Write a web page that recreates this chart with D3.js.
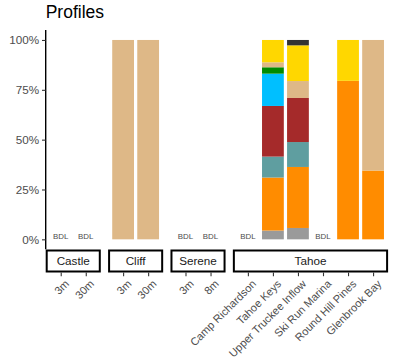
<!DOCTYPE html>
<html>
<head>
<meta charset="utf-8">
<script src="https://cdn.jsdelivr.net/npm/d3@7"></script>
<style>
  html, body { margin: 0; padding: 0; background: #fff; }
  svg { display: block; font-family: "Liberation Sans", Arial, sans-serif; }
</style>
</head>
<body>
<svg id="chart" width="393" height="360"></svg>
<script>
// Facet panels and the sites inside each one
const facets = ["Castle", "Cliff", "Serene", "Tahoe"];
const facetOf = ["Castle", "Castle", "Cliff", "Cliff", "Serene", "Serene",
                 "Tahoe", "Tahoe", "Tahoe", "Tahoe", "Tahoe", "Tahoe"];
const sites = ["3m", "30m", "3m", "30m", "3m", "8m",
               "Camp Richardson", "Tahoe Keys", "Upper Truckee Inflow",
               "Ski Run Marina", "Round Hill Pines", "Glenbrook Bay"];
// Samples below detection limit
const belowDetection = [true, true, false, false, true, true,
                        true, false, false, true, false, false];

// Share of each component (percent), stacked bottom to top
const seriesNames = ["s1", "s2", "s3", "s4", "s5", "s6", "s7", "s8", "s9"];
const s1 = [0, 0, 0, 0, 0, 0, 0, 4.4, 5.7, 0, 0, 0];
const s2 = [0, 0, 0, 0, 0, 0, 0, 26.6, 30.6, 0, 79.5, 34.5];
const s3 = [0, 0, 0, 0, 0, 0, 0, 10.5, 12.5, 0, 0, 0];
const s4 = [0, 0, 0, 0, 0, 0, 0, 25.4, 22.1, 0, 0, 0];
const s5 = [0, 0, 0, 0, 0, 0, 0, 16.2, 0, 0, 0, 0];
const s6 = [0, 0, 0, 0, 0, 0, 0, 3.2, 0, 0, 0, 0];
const s7 = [0, 0, 100, 100, 0, 0, 0, 2.5, 8.5, 0, 0, 65.5];
const s8 = [0, 0, 0, 0, 0, 0, 0, 11.2, 17.9, 0, 20.5, 0];
const s9 = [0, 0, 0, 0, 0, 0, 0, 0, 2.7, 0, 0, 0];
const seriesValues = [s1, s2, s3, s4, s5, s6, s7, s8, s9];
const seriesColors = ["#9a9a9a", "#ff8c00", "#5f9ea0", "#a52a2a", "#00bfff",
                      "#008b00", "#deb887", "#ffd700", "#333333"];

const yTicks = [0, 0.25, 0.5, 0.75, 1];

// Build rows: one per sample, with each component as a fraction
const rows = sites.map((site, i) => {
  const r = { key: facetOf[i] + "|" + site, facet: facetOf[i], site, bdl: belowDetection[i] };
  seriesNames.forEach((n, j) => { r[n] = seriesValues[j][i] / 100; });
  return r;
});

const svg = d3.select("#chart");

// Layout
const plotLeft = 45.7, plotRight = 388.1;
const panelTop = 30, panelBottom = 249.3;
const panelGap = 7.3;
const expandUnits = 0.6;
const counts = facets.map(f => rows.filter(r => r.facet === f).length);
const totalUnits = d3.sum(counts, c => c - 1 + 2 * expandUnits);
const unit = (plotRight - plotLeft - panelGap * (facets.length - 1)) / totalUnits;
const barFrac = 0.87;

const y = d3.scaleLinear().domain([-0.05, 1.05]).range([panelBottom, panelTop]);

// Title
svg.append("text")
  .attr("x", plotLeft).attr("y", 18.3)
  .attr("font-size", 17.5).attr("fill", "#000")
  .text("Profiles");

const stack = d3.stack().keys(seriesNames);

let x0 = plotLeft;
facets.forEach((f, fi) => {
  const data = rows.filter(r => r.facet === f);
  const w = (data.length - 1 + 2 * expandUnits) * unit;
  const x = d3.scalePoint().domain(data.map(d => d.key)).range([x0, x0 + w]).padding(expandUnits);
  const bw = barFrac * x.step();
  const g = svg.append("g");

  // Stacked bars
  const layers = stack(data);
  layers.forEach((layer, li) => {
    g.append("g").attr("fill", seriesColors[li])
      .selectAll("rect")
      .data(layer.filter(d => d[1] - d[0] > 0))
      .join("rect")
      .attr("x", d => x(d.data.key) - bw / 2)
      .attr("width", bw)
      .attr("y", d => y(d[1]))
      .attr("height", d => y(d[0]) - y(d[1]));
  });

  // Below-detection labels
  g.selectAll("text.bdl")
    .data(data.filter(d => d.bdl))
    .join("text")
    .attr("class", "bdl")
    .attr("x", d => x(d.key))
    .attr("y", y(0) - 0.8)
    .attr("text-anchor", "middle")
    .attr("font-size", 7.9)
    .attr("fill", "#4d4d4d")
    .text("BDL");

  // Strip
  const stripTop = 250, stripH = 22.5;
  g.append("rect")
    .attr("x", x0 + 1).attr("y", stripTop + 0.5)
    .attr("width", w - 2).attr("height", stripH - 1.5)
    .attr("fill", "#fff").attr("stroke", "#000").attr("stroke-width", 2);
  g.append("text")
    .attr("x", x0 + w / 2).attr("y", stripTop + stripH / 2 + 4)
    .attr("text-anchor", "middle").attr("font-size", 11.7).attr("fill", "#1a1a1a")
    .text(f);

  // Bottom axis below the strip
  const axisY = stripTop + stripH;
  const ax = g.append("g").attr("transform", `translate(0,${axisY})`)
    .call(d3.axisBottom(x).tickSize(3.7).tickSizeOuter(0).tickFormat(k => k.split("|")[1]));
  ax.select(".domain").remove();
  ax.selectAll(".tick line").attr("stroke", "#333").attr("stroke-width", 1.1);
  ax.selectAll(".tick text")
    .attr("font-size", 11).attr("fill", "#4d4d4d")
    .attr("font-family", "Liberation Sans, Arial, sans-serif")
    .attr("text-anchor", "end")
    .attr("x", 0).attr("y", 0).attr("dy", "0.71em")
    .attr("transform", "translate(3,6.5) rotate(-45)");

  x0 += w + panelGap;
});

// Left axis
const yAxis = svg.append("g").attr("transform", `translate(${plotLeft},0)`)
  .call(d3.axisLeft(y).tickValues(yTicks).tickSize(3.7).tickSizeOuter(0)
    .tickFormat(d3.format(".0%")));
yAxis.select(".domain").attr("stroke", "#000").attr("stroke-width", 1.4)
  .attr("d", `M0,${panelTop}V${panelBottom}`);
yAxis.selectAll(".tick line").attr("stroke", "#333").attr("stroke-width", 1.1);
yAxis.selectAll(".tick text")
  .attr("font-size", 11.7).attr("fill", "#4d4d4d")
  .attr("font-family", "Liberation Sans, Arial, sans-serif")
  .attr("x", -6.5);
</script>
</body>
</html>
